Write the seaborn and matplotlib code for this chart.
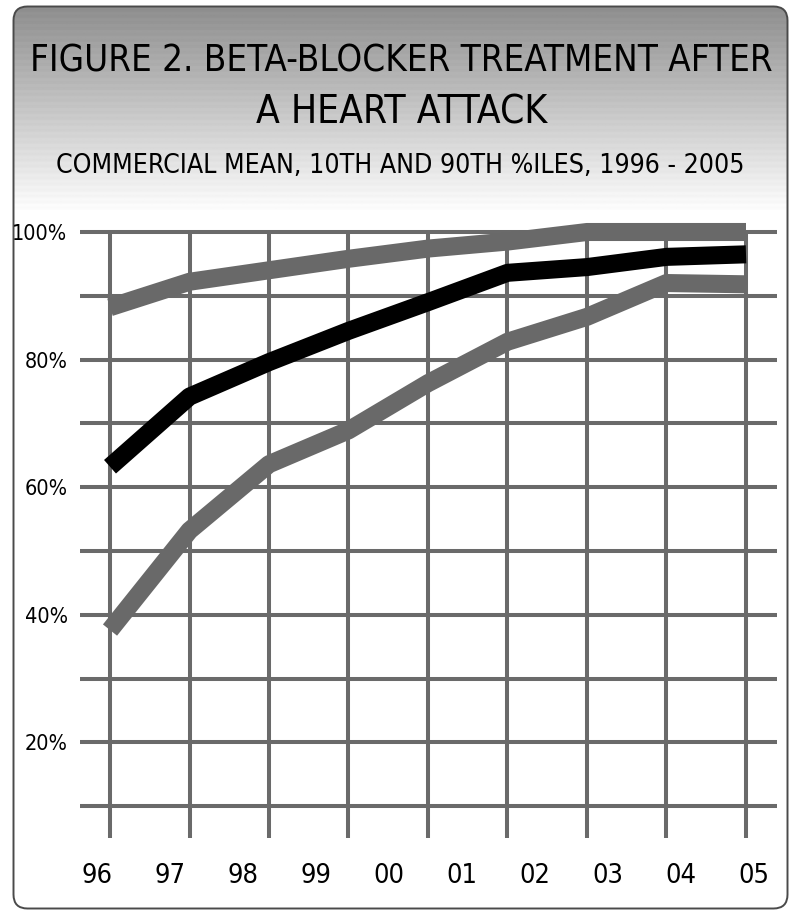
import numpy as np
import pandas as pd
import matplotlib
matplotlib.use("Agg")
import matplotlib.pyplot as plt
import seaborn as sns
from matplotlib import font_manager
from matplotlib.patches import FancyBboxPatch

# ---- data -------------------------------------------------------------
years = ["96", "97", "98", "99", "00", "01", "02", "03", "04", "05"]
pct90 = [88.2, 92.2, 94.0, 95.8, 97.4, 98.5, 100.0, 100.0, 100.0]
mean = [63.2, 74.2, 79.6, 84.5, 89.0, 93.6, 94.5, 96.1, 96.5]
pct10 = [37.6, 53.2, 63.6, 68.9, 76.3, 82.8, 86.7, 92.0, 91.8]
y_ticks = [20, 40, 60, 80, 100]
y_labels = ["20%", "40%", "60%", "80%", "100%"]
grid_levels = [10, 20, 30, 40, 50, 60, 70, 80, 90, 100]

title_1 = "FIGURE 2. BETA-BLOCKER TREATMENT AFTER"
title_2 = "A HEART ATTACK"
subtitle = "COMMERCIAL MEAN, 10TH AND 90TH %ILES, 1996 - 2005"

# ---- style ------------------------------------------------------------
sns.set_theme(style="white")
names = {f.name for f in font_manager.fontManager.ttflist}
narrow = next((n for n in ["Liberation Sans Narrow", "DejaVu Sans Condensed"]
               if n in names), None)
if narrow:
    plt.rcParams["font.family"] = [narrow, "DejaVu Sans"]
    stretch = "normal"
else:
    plt.rcParams["font.family"] = ["DejaVu Sans"]
    stretch = "condensed"
plt.rcParams["font.stretch"] = stretch

GRID = "#6a6a6a"
SERIES_GREY = "#696969"

W, H = 792, 911
fig = plt.figure(figsize=(W / 100, H / 100), dpi=100)


def px_rect(x0, y0, x1, y1):
    return [x0 / W, 1 - y1 / H, (x1 - x0) / W, (y1 - y0) / H]


# ---- framed panel with grey-to-white header gradient ------------------
bg = fig.add_axes([0, 0, 1, 1], zorder=0)
bg.set_xlim(0, W)
bg.set_ylim(H, 0)
bg.axis("off")
frame = FancyBboxPatch((13.5, 6.5), 774, 902,
                       boxstyle="round,pad=0,rounding_size=14",
                       fc="none", ec="#4a4a4a", lw=1.4, zorder=3)
bg.add_patch(frame)
rows = np.arange(6, 910)
t = np.clip((rows - 6) / 205.0, 0, 1)
shade = 0.56 + 0.44 * t
shade = shade - 0.012 * ((rows // 3) % 2) * (t < 1)
img = np.repeat(shade[:, None], 2, axis=1)
im = bg.imshow(img, cmap="gray", vmin=0, vmax=1, aspect="auto",
               extent=(13.5, 787.5, 908.5, 6.5), interpolation="bilinear",
               zorder=1)
im.set_clip_path(frame)

# ---- titles -----------------------------------------------------------
t1 = fig.text(401 / W, 1 - 72 / H, title_1, ha="center", va="baseline",
              fontsize=30, color="black")
t2 = fig.text(402 / W, 1 - 123 / H, title_2, ha="center", va="baseline",
              fontsize=30, color="black")
t3 = fig.text(400 / W, 1 - 173 / H, subtitle, ha="center", va="baseline",
              fontsize=22, color="black")

# ---- chart ------------------------------------------------------------
ax = fig.add_axes(px_rect(80, 219, 777, 838), zorder=2)
ax.patch.set_alpha(0)
col_step = 79.5
ax.set_xlim((80 - 110) / col_step, (777 - 110) / col_step)
ax.set_ylim(5, 100 + 13 / ((838 - 232) / 95))

positions = np.arange(len(mean))
df = pd.DataFrame({
    "pos": np.tile(positions, 3),
    "value": pct90 + pct10 + mean,
    "series": ["90th"] * len(pct90) + ["10th"] * len(pct10) + ["Mean"] * len(mean),
})

x0, x1 = ax.get_xlim()
hl = ax.hlines(grid_levels, x0, x1, colors=GRID, lw=2.9, zorder=1)
vl = ax.vlines(positions, 5, grid_levels[-1], colors=GRID, lw=2.9, zorder=1)
hl.set_capstyle("butt")
vl.set_capstyle("butt")

sns.lineplot(data=df, x="pos", y="value", hue="series",
             hue_order=["90th", "10th", "Mean"],
             palette={"90th": SERIES_GREY, "10th": SERIES_GREY, "Mean": "black"},
             linewidth=13, legend=False, errorbar=None, ax=ax,
             solid_capstyle="butt", zorder=3)

label_pos = np.linspace((97 - 110) / col_step, (754 - 110) / col_step, len(years))
ax.set_xticks(label_pos, years)
ax.set_yticks(y_ticks, y_labels)
ax.set_xlabel("")
ax.set_ylabel("")
for s in ax.spines.values():
    s.set_visible(False)
ax.tick_params(axis="x", length=0, pad=18, labelsize=19.5, labelcolor="black")
ax.tick_params(axis="y", length=0, pad=9, labelsize=15.5, labelcolor="black")
for lbl in ax.get_yticklabels():
    lbl.set_va("center_baseline")

# scale the header lines to their measured widths
fig.canvas.draw()
renderer = fig.canvas.get_renderer()
for txt, target in [(t1, 741), (t2, 290), (t3, 686)]:
    w = txt.get_window_extent(renderer).width
    txt.set_fontsize(txt.get_fontsize() * target / w)

fig.savefig("out.png", dpi=100)
